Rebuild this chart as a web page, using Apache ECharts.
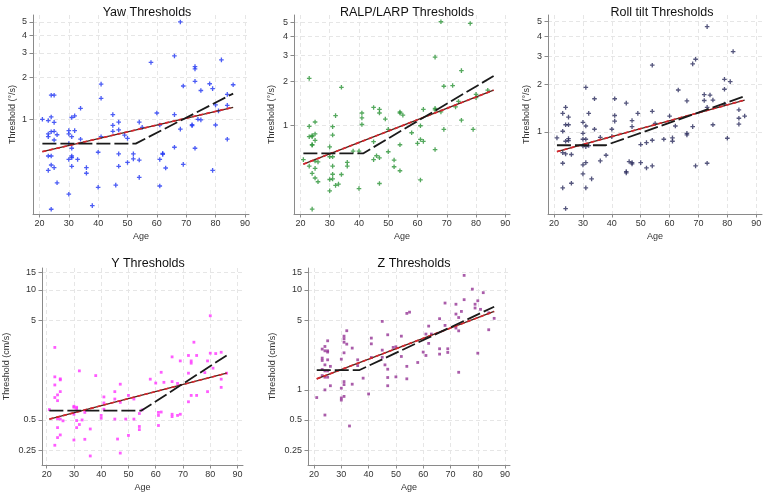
<!DOCTYPE html>
<html>
<head>
<meta charset="utf-8">
<script src="https://cdn.jsdelivr.net/npm/echarts@6/dist/echarts.min.js"></script>
<style>
  html, body { margin: 0; padding: 0; background: #fff; }
  #main { width: 767px; height: 496px; }
</style>
</head>
<body>
<div id="main"></div>
<script>
const chartDom = document.getElementById("main");
const myChart = echarts.init(chartDom);

// age ticks shared by every panel
const ageTicks = [20, 30, 40, 50, 60, 70, 80, 90];
const angTicks = [1, 2, 3, 4, 5];
const yTicks = [0.25, 0.5, 5, 10, 15];
const zTicks = [0.25, 0.5, 1, 5, 10, 15];

// [age, threshold]
const yawData = [
    [21, 1.0], [23, 0.98], [23, 0.785], [23, 0.75], [23, 0.545], [23, 0.43], [24, 1.49], [25, 1.49],
    [24, 1.04], [24, 0.815], [24, 0.545], [24, 0.47], [24, 0.226], [25, 0.95], [25, 0.82], [25, 0.71],
    [25, 0.45], [26, 0.775], [26, 0.35], [30, 0.83], [30, 0.785], [30, 0.67], [30, 0.515], [30, 0.29],
    [31, 1.03], [31, 0.75], [31, 0.62], [31, 0.545], [31, 0.53], [31, 0.46], [32, 1.06], [32, 0.83],
    [33, 0.515], [34, 1.2], [34, 0.72], [36, 0.45], [36, 0.41], [38, 0.24], [40, 0.58], [40, 0.325],
    [41, 1.79], [41, 1.415], [41, 0.75], [45, 1.08], [45, 0.905], [45, 0.82], [46, 0.337], [47, 0.955],
    [47, 0.84], [47, 0.565], [47, 0.46], [49, 0.77], [50, 0.73], [50, 0.49], [52, 0.565], [52, 0.52],
    [54, 0.955], [54, 0.51], [54, 0.383], [55, 0.875], [58, 2.56], [60, 1.11], [61, 0.91], [61, 0.515],
    [61, 0.332], [62, 0.56], [62, 0.57], [63, 0.447], [66, 2.85], [66, 1.08], [66, 0.63], [68, 5.0],
    [68, 0.85], [69, 1.735], [69, 0.475], [72, 0.915], [72, 0.9], [73, 2.39], [73, 2.3], [73, 1.875],
    [73, 0.62], [74, 1.0], [75, 1.61], [75, 0.99], [78, 1.8], [79, 1.66], [79, 0.43], [80, 1.27],
    [80, 0.91], [81, 1.15], [82, 2.67], [84, 1.51], [84, 1.26], [84, 0.72], [86, 1.77]
];
const yawLinear = [[21, 0.586], [86, 1.22]];
const yawBroken = [[21, 0.669], [52.8, 0.669], [86, 1.53]];

const ralpData = [
    [21, 0.59], [23, 2.09], [23, 0.99], [23, 0.843], [23, 0.533], [24, 0.843], [24, 0.86], [24, 0.74],
    [24, 0.476], [24, 0.273], [24, 0.745], [25, 1.06], [25, 0.88], [25, 0.796], [25, 0.577], [25, 0.515],
    [25, 0.443], [26, 0.57], [26, 0.418], [30, 0.72], [30, 0.617], [30, 0.433], [30, 0.363], [31, 0.985],
    [31, 0.865], [31, 0.617], [31, 0.533], [31, 0.47], [31, 0.437], [32, 1.17], [32, 0.395], [33, 0.403],
    [34, 1.82], [34, 0.468], [36, 0.565], [36, 0.533], [38, 0.674], [40, 0.376], [40, 0.674], [41, 1.22],
    [41, 1.13], [41, 1.02], [45, 1.33], [45, 0.78], [45, 0.59], [46, 0.627], [47, 1.29], [47, 1.22],
    [47, 0.607], [47, 0.407], [49, 1.11], [50, 0.945], [50, 0.667], [52, 0.586], [52, 0.528], [54, 1.24],
    [54, 1.22], [54, 0.744], [54, 0.496], [55, 1.18], [58, 0.897], [60, 0.76], [61, 1.0], [61, 0.808],
    [61, 0.43], [62, 1.29], [62, 0.784], [66, 2.91], [66, 1.31], [66, 1.28], [66, 0.69], [68, 5.05],
    [68, 1.24], [69, 1.85], [69, 0.945], [72, 1.87], [73, 1.34], [74, 1.46], [75, 2.36], [75, 1.09],
    [78, 4.92], [79, 0.945], [80, 1.63], [80, 1.55], [84, 1.74]
];
const ralpLinear = [[21, 0.55], [86, 1.74]];
const ralpBroken = [[21, 0.65], [41.4, 0.65], [86, 2.17]];

const rollData = [
    [21, 0.917], [23, 1.31], [23, 1.01], [23, 0.74], [23, 0.634], [23, 0.443], [24, 1.43], [24, 1.11],
    [24, 0.873], [24, 0.726], [24, 0.328], [25, 1.24], [25, 1.11], [25, 0.908], [25, 0.882], [26, 0.72],
    [26, 0.474], [30, 1.15], [30, 0.98], [30, 0.899], [30, 0.816], [30, 0.619], [30, 0.543], [31, 1.91],
    [31, 1.09], [31, 0.899], [31, 0.808], [31, 0.64], [31, 0.443], [32, 1.31], [32, 0.82], [33, 0.505],
    [34, 1.62], [34, 1.04], [36, 0.925], [36, 0.656], [38, 0.712], [40, 1.04], [40, 0.934], [41, 1.62],
    [41, 1.27], [41, 1.17], [45, 1.52], [45, 0.562], [45, 0.551], [46, 0.65], [47, 1.18], [47, 1.08],
    [47, 0.64], [47, 0.628], [49, 1.31], [50, 0.832], [50, 0.64], [52, 0.856], [52, 0.592], [54, 2.64],
    [54, 1.35], [54, 0.886], [54, 0.61], [55, 1.13], [58, 0.899], [60, 1.26], [61, 0.917], [61, 0.873],
    [62, 1.09], [63, 1.84], [66, 1.57], [66, 0.98], [66, 0.957], [68, 2.69], [68, 1.08], [69, 2.88],
    [69, 0.61], [72, 1.72], [72, 1.58], [73, 4.63], [73, 1.43], [73, 0.634], [74, 1.71], [75, 1.59],
    [75, 1.11], [79, 2.15], [79, 1.86], [79, 1.5], [81, 2.08], [80, 0.912], [82, 3.22], [84, 1.38],
    [84, 1.22], [84, 1.12], [86, 1.26]
];
const rollLinear = [[21, 0.751], [86, 1.59]];
const rollBroken = [[21, 0.824], [37.9, 0.824], [86, 1.68]];

const yData = [
    [21, 0.635], [23, 2.66], [23, 1.35], [23, 1.12], [23, 0.838], [23, 0.279], [24, 0.891], [24, 0.78],
    [24, 0.515], [24, 0.419], [24, 0.333], [25, 1.29], [25, 1.26], [25, 0.961], [25, 0.51], [25, 0.354],
    [26, 0.49], [30, 0.685], [30, 0.67], [30, 0.57], [30, 0.315], [31, 0.67], [31, 0.65], [31, 0.493],
    [31, 0.419], [32, 1.55], [32, 0.45], [33, 0.5], [34, 0.595], [34, 0.32], [36, 0.406], [36, 0.218],
    [38, 1.39], [40, 0.555], [40, 0.52], [41, 0.85], [41, 0.74], [41, 0.64], [45, 0.96], [45, 0.81],
    [45, 0.51], [46, 0.322], [47, 1.14], [47, 0.75], [47, 0.233], [49, 0.51], [50, 0.88], [50, 0.35],
    [52, 0.81], [52, 0.51], [54, 0.58], [54, 0.43], [54, 0.4], [55, 0.63], [58, 1.28], [60, 1.17],
    [61, 0.595], [61, 0.555], [61, 0.44], [62, 1.5], [62, 0.6], [63, 1.19], [66, 2.14], [66, 1.21],
    [66, 0.57], [66, 0.54], [68, 1.16], [68, 0.555], [69, 1.95], [69, 0.57], [72, 2.21], [72, 1.47],
    [72, 0.76], [73, 1.95], [73, 1.85], [73, 0.88], [74, 3.0], [75, 2.21], [75, 0.88], [78, 1.49],
    [79, 1.95], [79, 0.96], [80, 5.52], [80, 2.33], [81, 1.65], [82, 2.31], [84, 2.38], [84, 1.28],
    [84, 1.06], [86, 1.47]
];
const yLinear = [[21, 0.51], [86, 1.47]];
const yBroken = [[21, 0.62], [54.8, 0.62], [86, 2.21]];

const zData = [
    [21, 0.838], [23, 2.56], [23, 2.08], [23, 1.97], [23, 1.6], [23, 1.39], [24, 2.72], [24, 2.46],
    [24, 1.78], [24, 1.55], [24, 1.34], [24, 1.0], [24, 0.56], [25, 3.1], [25, 2.46], [25, 2.39],
    [25, 2.0], [25, 1.55], [25, 1.34], [26, 1.72], [26, 1.1], [30, 2.03], [30, 1.04], [30, 0.83],
    [30, 0.79], [31, 3.45], [31, 3.25], [31, 3.0], [31, 2.35], [31, 1.21], [31, 1.13], [31, 0.86],
    [32, 3.91], [32, 2.87], [33, 0.435], [34, 2.62], [34, 1.14], [36, 2.0], [36, 1.75], [38, 1.31],
    [40, 0.91], [41, 3.3], [41, 2.89], [41, 2.11], [45, 4.85], [45, 2.5], [45, 2.12], [46, 1.78],
    [47, 3.56], [47, 1.61], [47, 1.33], [47, 1.1], [49, 2.66], [50, 2.7], [50, 1.35], [52, 3.45],
    [52, 2.16], [54, 5.83], [54, 1.72], [54, 1.29], [55, 6.0], [58, 1.88], [60, 2.39], [61, 3.62],
    [61, 2.21], [62, 4.35], [62, 2.92], [63, 3.62], [66, 5.16], [66, 2.58], [66, 2.28], [68, 4.42],
    [68, 7.4], [69, 2.58], [69, 2.37], [72, 7.2], [72, 5.74], [72, 4.16], [73, 5.3], [73, 1.5],
    [73, 3.9], [74, 6.1], [75, 14.0], [75, 8.0], [78, 10.2], [79, 6.6], [79, 7.2], [80, 7.8],
    [80, 2.33], [81, 6.4], [82, 9.4], [84, 5.9], [84, 4.0], [86, 5.2]
];
const zLinear = [[21, 1.29], [86, 6.1]];
const zBroken = [[21, 1.58], [36.7, 1.58], [86, 6.8]];

const FONT = "'Liberation Sans', Arial, Helvetica, sans-serif";
const plusSymbol = "path://M2,0H3.6V2H5.6V3.6H3.6V5.6H2V3.6H0V2H2Z";

// one entry per panel; grid boxes
const panels = [
    { title: "Yaw Thresholds", cx: 142, ty: 1, grid: [33, 15, 216, 199], x: [17.8, 91.4], y: [0.209, 5.61],
      ticks: angTicks, unit: "Threshold (°/s)", yGap: 16, data: yawData, lin: yawLinear, brk: yawBroken,
      color: "#1f35f2", symbol: plusSymbol, size: 4.6 },
    { title: "RALP/LARP Thresholds", cx: 402, ty: 1, grid: [294, 15, 216, 199], x: [17.8, 91.6], y: [0.253, 5.61],
      ticks: angTicks, unit: "Threshold (°/s)", yGap: 18, data: ralpData, lin: ralpLinear, brk: ralpBroken,
      color: "#2a9436", symbol: plusSymbol, size: 4.6 },
    { title: "Roll tilt Thresholds", cx: 657, ty: 1, grid: [548, 15, 214, 199], x: [17.9, 92], y: [0.303, 5.48],
      ticks: angTicks, unit: "Threshold (°/s)", yGap: 17, data: rollData, lin: rollLinear, brk: rollBroken,
      color: "#2a2c5c", symbol: plusSymbol, size: 4.6 },
    { title: "Y Thresholds", cx: 143, ty: 252, grid: [42, 268, 201, 197], x: [18.3, 92], y: [0.177, 16.6],
      ticks: yTicks, unit: "Threshold (cm/s)", yGap: 31, data: yData, lin: yLinear, brk: yBroken,
      color: "#ff33ff", symbol: "rect", size: 2.8 },
    { title: "Z Thresholds", cx: 409, ty: 252, grid: [308, 268, 202, 197], x: [17.8, 91.8], y: [0.177, 16.6],
      ticks: zTicks, unit: "Threshold (cm/s)", yGap: 31, data: zData, lin: zLinear, brk: zBroken,
      color: "#953595", symbol: "rect", size: 2.8 }
];

const gridLine = { show: true, lineStyle: { color: "#e6e6e6", type: [4, 3], width: 1 } };
const axisLine = { show: true, onZero: false, lineStyle: { color: "#8a8a8a", width: 1 } };

const option = {
    animation: false,
    backgroundColor: "#fff",
    title: panels.map((p) => ({
        text: p.title,
        left: p.cx,
        top: p.ty,
        textAlign: "center",
        textStyle: { fontFamily: FONT, fontSize: 12.5, fontWeight: "normal", color: "#111" }
    })),
    grid: panels.map((p) => ({
        left: p.grid[0], top: p.grid[1], width: p.grid[2], height: p.grid[3], containLabel: false
    })),
    xAxis: panels.map((p, i) => ({
        type: "value",
        gridIndex: i,
        min: p.x[0],
        max: p.x[1],
        name: "Age",
        nameLocation: "middle",
        nameGap: 18,
        nameTextStyle: { fontFamily: FONT, fontSize: 9, color: "#333" },
        axisLine: axisLine,
        axisTick: { show: true, length: 3.5, lineStyle: { color: "#8a8a8a" }, customValues: ageTicks },
        axisLabel: { fontFamily: FONT, fontSize: 9, color: "#333", margin: 5, customValues: ageTicks },
        splitLine: gridLine
    })),
    yAxis: panels.map((p, i) => ({
        type: "log",
        logBase: 10,
        gridIndex: i,
        min: p.y[0],
        max: p.y[1],
        name: p.unit,
        nameLocation: "middle",
        nameGap: p.yGap,
        nameTextStyle: { fontFamily: FONT, fontSize: 9, color: "#333" },
        axisLine: axisLine,
        axisTick: { show: true, length: 3.5, lineStyle: { color: "#8a8a8a" }, customValues: p.ticks },
        axisLabel: {
            fontFamily: FONT, fontSize: 9, color: "#333", margin: 6, customValues: p.ticks,
            formatter: (v) => String(+(+v).toPrecision(3))
        },
        splitLine: gridLine
    })),
    series: panels.flatMap((p, i) => [
        {
            type: "scatter",
            xAxisIndex: i,
            yAxisIndex: i,
            data: p.data,
            symbol: p.symbol,
            symbolSize: p.size,
            itemStyle: { color: p.color },
            z: 2
        },
        {
            // dark core under the red dashes of the linear fit
            type: "line",
            xAxisIndex: i,
            yAxisIndex: i,
            data: p.lin,
            symbol: "none",
            lineStyle: { color: "#4a2418", width: 1.3 },
            z: 3
        },
        {
            type: "line",
            xAxisIndex: i,
            yAxisIndex: i,
            data: p.lin,
            symbol: "none",
            lineStyle: { color: "#d8262e", width: 1.7, type: [4, 3] },
            z: 4
        },
        {
            type: "line",
            xAxisIndex: i,
            yAxisIndex: i,
            data: p.brk,
            symbol: "none",
            lineStyle: { color: "#1a1a1a", width: 1.8, type: [14, 4] },
            z: 5
        }
    ])
};

myChart.setOption(option);
</script>
</body>
</html>
